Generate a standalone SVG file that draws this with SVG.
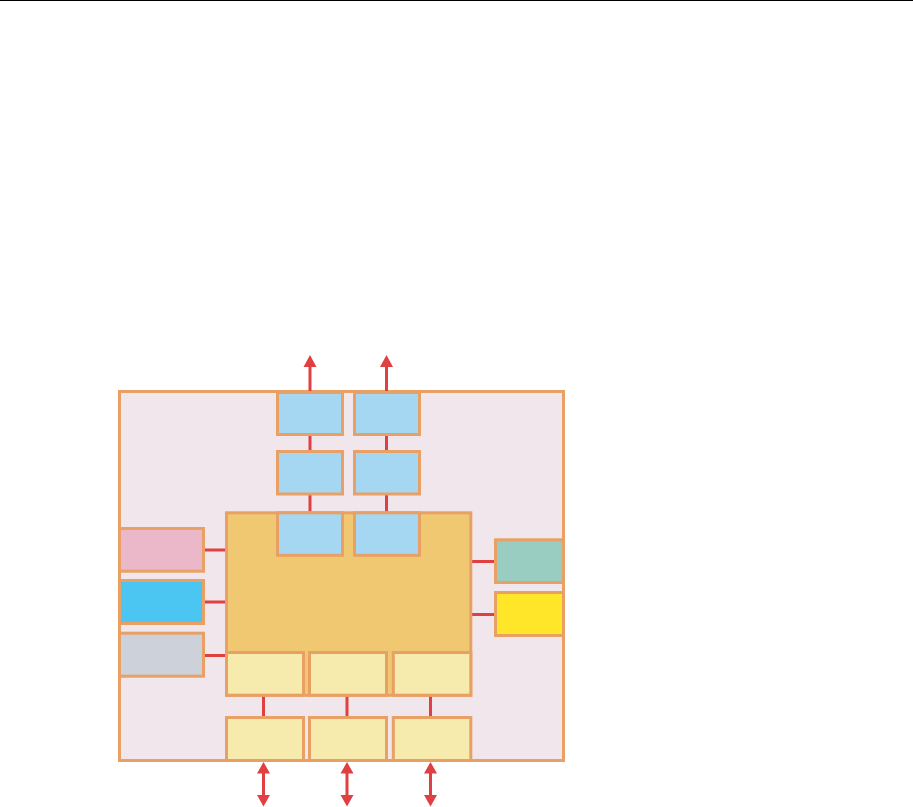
<svg xmlns="http://www.w3.org/2000/svg" width="913" height="807" viewBox="0 0 913 807">
<defs>
<style>
.b{stroke:#e8a064;stroke-width:3}
.c{stroke:#e04042;stroke-width:3;fill:none}
</style>
<marker id="ah" viewBox="0 0 13 12" refX="6.5" refY="0" markerWidth="13" markerHeight="12" markerUnits="userSpaceOnUse" orient="auto-start-reverse">
<path d="M0,12 L6.5,0 L13,12 Z" fill="#e04042"/>
</marker>
<marker id="ae" viewBox="0 0 13 12" refX="6.5" refY="12" markerWidth="13" markerHeight="12" markerUnits="userSpaceOnUse" orient="auto">
<path d="M0,0 L13,6 L0,12 Z" fill="#e04042"/>
</marker>
</defs>
<rect width="913" height="807" fill="#fff"/>
<line x1="0" y1="0.5" x2="913" y2="0.5" stroke="#000" stroke-width="1"/>
<g id="container"><rect class="b" x="119.5" y="391.5" width="444" height="369" fill="#f1e6ec"/></g>
<g id="connectors">
<line class="c" x1="310" y1="391" x2="310" y2="366"/>
<path d="M303.5,367 L310,355 L316.5,367 Z" fill="#e04042"/>
<line class="c" x1="386.5" y1="391" x2="386.5" y2="366"/>
<path d="M380,367 L386.5,355 L393,367 Z" fill="#e04042"/>
<line class="c" x1="310" y1="434" x2="310" y2="452"/>
<line class="c" x1="386.5" y1="434" x2="386.5" y2="452"/>
<line class="c" x1="310" y1="494" x2="310" y2="513"/>
<line class="c" x1="386.5" y1="494" x2="386.5" y2="513"/>
<line class="c" x1="205" y1="550" x2="226" y2="550"/>
<line class="c" x1="205" y1="602" x2="226" y2="602"/>
<line class="c" x1="205" y1="655.5" x2="226" y2="655.5"/>
<line class="c" x1="471" y1="561.5" x2="495" y2="561.5"/>
<line class="c" x1="471" y1="614.5" x2="495" y2="614.5"/>
<line class="c" x1="263.5" y1="695" x2="263.5" y2="718"/>
<line class="c" x1="347" y1="695" x2="347" y2="718"/>
<line class="c" x1="430.5" y1="695" x2="430.5" y2="718"/>
<line class="c" x1="263.5" y1="772" x2="263.5" y2="796"/>
<path d="M257,773.5 L263.5,762 L270,773.5 Z M257,795 L263.5,806.5 L270,795 Z" fill="#e04042"/>
<line class="c" x1="347" y1="772" x2="347" y2="796"/>
<path d="M340.5,773.5 L347,762 L353.5,773.5 Z M340.5,795 L347,806.5 L353.5,795 Z" fill="#e04042"/>
<line class="c" x1="430.5" y1="772" x2="430.5" y2="796"/>
<path d="M424,773.5 L430.5,762 L437,773.5 Z M424,795 L430.5,806.5 L437,795 Z" fill="#e04042"/>
</g>
<g id="core"><rect class="b" x="226.5" y="512.8" width="244.3" height="182.5" fill="#f0c872"/></g>
<g id="blue-1-1"><rect class="b" x="277.5" y="392.5" width="65" height="42" fill="#a5d7f2"/></g>
<g id="blue-1-2"><rect class="b" x="354.5" y="392.5" width="65" height="42" fill="#a5d7f2"/></g>
<g id="blue-2-1"><rect class="b" x="277.5" y="451.5" width="65" height="42.5" fill="#a5d7f2"/></g>
<g id="blue-2-2"><rect class="b" x="354.5" y="451.5" width="65" height="42.5" fill="#a5d7f2"/></g>
<g id="blue-3-1"><rect class="b" x="277.5" y="512.8" width="65" height="42.5" fill="#a5d7f2"/></g>
<g id="blue-3-2"><rect class="b" x="354.5" y="512.8" width="65" height="42.5" fill="#a5d7f2"/></g>
<g id="pink"><rect class="b" x="119.5" y="528.5" width="84" height="42.7" fill="#ebb8c9"/></g>
<g id="cyan"><rect class="b" x="119.5" y="580.5" width="84" height="43" fill="#4bc5f1"/></g>
<g id="grey"><rect class="b" x="119.5" y="633.2" width="84" height="43" fill="#cdd2da"/></g>
<g id="teal"><rect class="b" x="495.5" y="539.8" width="68" height="42.7" fill="#99cdc1"/></g>
<g id="yellow"><rect class="b" x="495.5" y="592.5" width="68" height="43" fill="#ffe628"/></g>
<g id="ly-1-1"><rect class="b" x="226.5" y="652.5" width="77" height="42.7" fill="#f7eaad"/></g>
<g id="ly-1-2"><rect class="b" x="309.5" y="652.5" width="77" height="42.7" fill="#f7eaad"/></g>
<g id="ly-1-3"><rect class="b" x="393.3" y="652.5" width="77.5" height="42.7" fill="#f7eaad"/></g>
<g id="ly-2-1"><rect class="b" x="226.5" y="717.5" width="77" height="43" fill="#f7eaad"/></g>
<g id="ly-2-2"><rect class="b" x="309.5" y="717.5" width="77" height="43" fill="#f7eaad"/></g>
<g id="ly-2-3"><rect class="b" x="393.3" y="717.5" width="77.5" height="43" fill="#f7eaad"/></g>
</svg>
